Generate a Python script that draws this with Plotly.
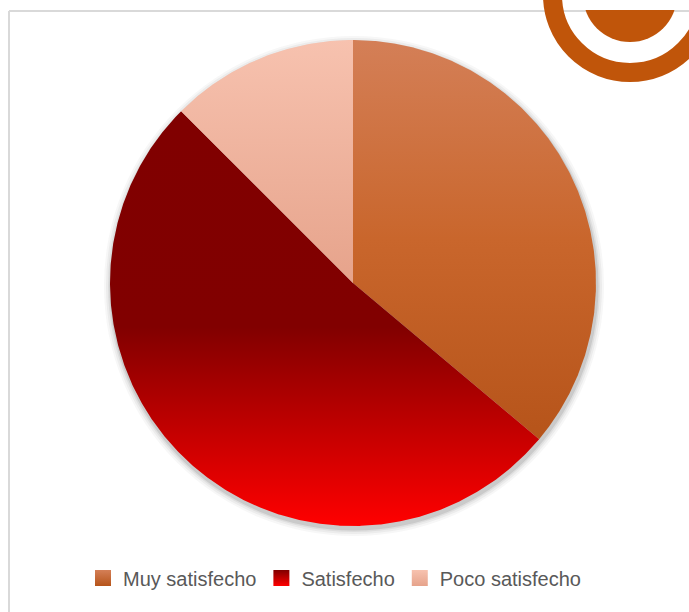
import numpy as np
import plotly.graph_objects as go

# Survey results (number of respondents)
categories = ["Muy satisfecho", "Satisfecho", "Poco satisfecho"]
values = [26, 37, 9]

# Vertical gradient for each slice (top -> bottom)
gradients = [
    [[0.0, "#D47F57"], [0.5, "#C9662C"], [1.0, "#B6541A"]],
    [[0.0, "#800000"], [0.52, "#810000"], [1.0, "#FF0000"]],
    [[0.0, "#F7C2AF"], [1.0, "#E6A38B"]],
]

W, H = 689, 612
CX, CY, R = 353, 283, 243  # pie centre and radius in page pixels

fig = go.Figure()

# pie slices drawn clockwise from 12 o'clock
total = sum(values)
start = 0.0
for name, v, cs in zip(categories, values, gradients):
    sweep = 360.0 * v / total
    ang = np.radians(np.linspace(start, start + sweep, max(int(sweep * 3), 4)))
    xs = np.concatenate([[CX], CX + R * np.sin(ang), [CX]])
    ys = np.concatenate([[CY], CY - R * np.cos(ang), [CY]])
    fig.add_trace(go.Scatter(
        x=xs, y=ys, mode="lines", fill="toself",
        line=dict(width=0, color="rgba(0,0,0,0)"),
        fillgradient=dict(type="vertical", colorscale=cs,
                          start=float(ys.min()), stop=float(ys.max())),
        name=name, showlegend=False, hoverinfo="name",
    ))
    # legend entry with a matching gradient square
    fig.add_trace(go.Scatter(
        x=[None], y=[None], mode="markers", name=name,
        marker=dict(symbol="square", size=16, color=cs[0][1],
                    gradient=dict(type="vertical", color=cs[-1][1]),
                    line=dict(width=0)),
    ))
    start += sweep

shapes = []
# soft drop shadow behind the pie
for dr, op in [(7, 0.04), (5, 0.06), (3, 0.08), (1.5, 0.12)]:
    shapes.append(dict(type="circle", xref="x", yref="y", layer="below",
                       x0=CX + 1 - R - dr, x1=CX + 1 + R + dr,
                       y0=CY + 3 - R - dr, y1=CY + 3 + R + dr,
                       fillcolor=f"rgba(60,60,60,{op})", line=dict(width=0)))
# chart frame (top and left edges)
shapes.append(dict(type="line", xref="x", yref="y", x0=9, x1=W, y0=11, y1=11,
                   line=dict(color="#D9D9D9", width=2)))
shapes.append(dict(type="line", xref="x", yref="y", x0=9, x1=9, y0=11, y1=H,
                   line=dict(color="#D9D9D9", width=2)))
# corner emblem: inner disk (below the frame line) and outer ring
LX, LY = 630, -5
shapes.append(dict(type="circle", xref="x", yref="y",
                   x0=LX - 47, x1=LX + 47, y0=LY - 47, y1=LY + 47,
                   fillcolor="#C0550A", line=dict(width=0)))
shapes.append(dict(type="rect", xref="x", yref="y",
                   x0=LX - 60, x1=W, y0=-60, y1=10,
                   fillcolor="white", line=dict(width=0)))
shapes.append(dict(type="circle", xref="x", yref="y",
                   x0=LX - 77.5, x1=LX + 77.5, y0=LY - 77.5, y1=LY + 77.5,
                   fillcolor="rgba(0,0,0,0)", line=dict(color="#C0550A", width=19)))

fig.update_layout(
    width=W, height=H,
    margin=dict(l=0, r=0, t=0, b=0),
    paper_bgcolor="white", plot_bgcolor="white",
    xaxis=dict(range=[0, W], visible=False, fixedrange=True),
    yaxis=dict(range=[H, 0], visible=False, fixedrange=True),
    shapes=shapes,
    showlegend=True,
    legend=dict(orientation="h", x=83 / W, xanchor="left",
                y=1 - 578 / H, yanchor="middle",
                font=dict(family="Liberation Sans, Arial, sans-serif",
                          size=20, color="#595959"),
                bgcolor="rgba(0,0,0,0)"),
)

fig.write_html("out.html")
